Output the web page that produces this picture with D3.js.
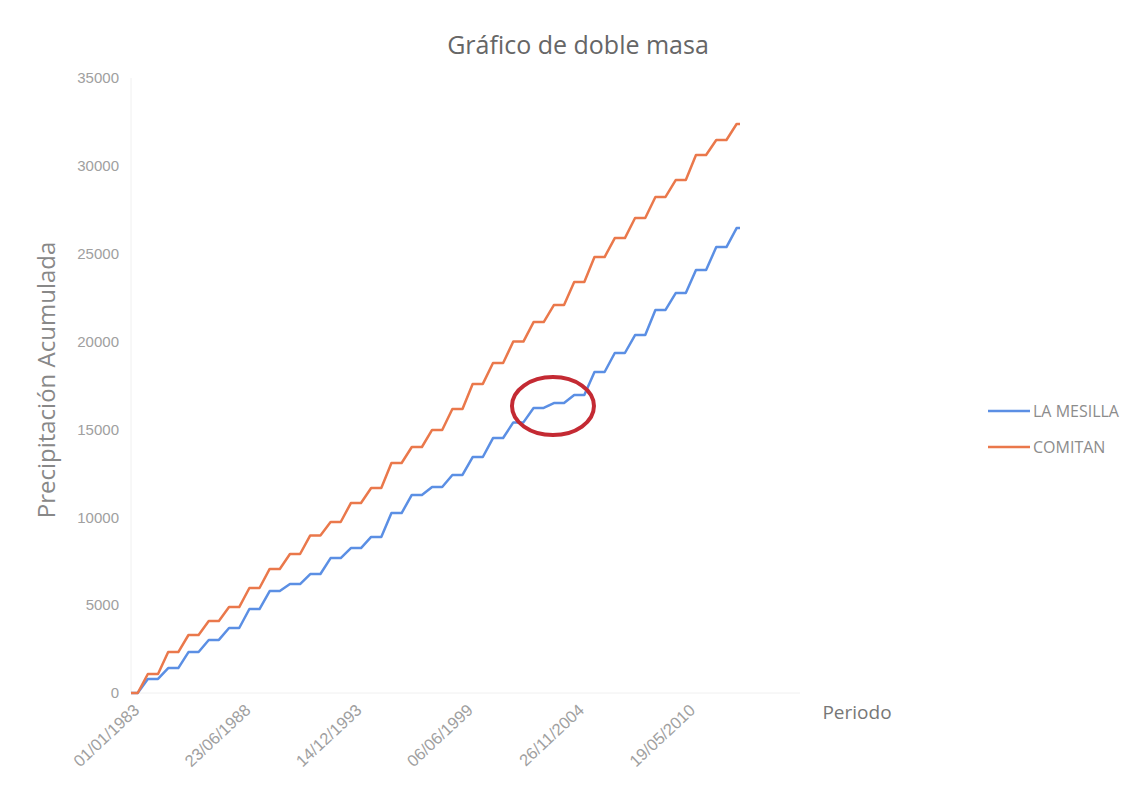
<!DOCTYPE html>
<html>
<head>
<meta charset="utf-8">
<script src="https://cdn.jsdelivr.net/npm/d3@7"></script>
<style>
  html, body { margin: 0; padding: 0; background: #ffffff; }
  svg { display: block; font-family: "Open Sans", "Liberation Sans", sans-serif; }
</style>
</head>
<body>
<svg id="chart" width="1128" height="785"></svg>
<script>
// ---- data ----
const years = [1983,1984,1985,1986,1987,1988,1989,1990,1991,1992,1993,1994,1995,1996,1997,
               1998,1999,2000,2001,2002,2003,2004,2005,2006,2007,2008,2009,2010,2011,2012];
// cumulative precipitation at the end of each year's rainy season
const comitanCum = [1080,2330,3300,4100,4890,5975,7060,7910,8970,9730,10810,11670,13090,14000,14970,
                    16160,17590,18780,20000,21110,22080,23390,24810,25890,27030,28230,29190,30620,31470,32380];
const mesillaCum = [800,1420,2330,3020,3700,4780,5800,6200,6770,7680,8250,8880,10240,11270,11720,
                    12410,13430,14510,15400,16220,16500,16960,18270,19350,20370,21800,22760,24070,25380,26460];
const seriesNames = ["LA MESILLA", "COMITAN"];
const xTickLabels = ["01/01/1983","23/06/1988","14/12/1993","06/06/1999","26/11/2004","19/05/2010"];
const yTicks = [0,5000,10000,15000,20000,25000,30000,35000];
const startDate = "1983-01-01", endDate = "2012-12-31";
// annotation: highlighted stretch of LA MESILLA
const highlightDate = "2003-10-15", highlightValue = 16330;

// ---- build point series (dry-season plateau, rainy-season rise) ----
const parse = d3.timeParse("%Y-%m-%d");
const parseDMY = d3.timeParse("%d/%m/%Y");
function buildPoints(cum) {
  const pts = [{date: parse(startDate), v: 0}];
  let prev = 0;
  years.forEach((y, i) => {
    pts.push({date: new Date(y, 4, 1), v: prev});
    pts.push({date: new Date(y, 9, 31), v: cum[i]});
    prev = cum[i];
  });
  pts.push({date: parse(endDate), v: prev});
  return pts;
}
const series = [
  {name: seriesNames[0], pts: buildPoints(mesillaCum), color: "#5b8fe4"},
  {name: seriesNames[1], pts: buildPoints(comitanCum), color: "#ea784b"}
];

// ---- layout ----
const svg = d3.select("#chart");
const x = d3.scaleTime().domain([parse(startDate), parse(endDate)]).range([131, 740]);
const y = d3.scaleLinear().domain([0, 35000]).range([693, 78]);

svg.append("rect").attr("width", 1128).attr("height", 785).attr("fill", "#fff");

// faint axis lines
svg.append("line").attr("x1", 131).attr("x2", 131).attr("y1", 78).attr("y2", 693)
  .attr("stroke", "#f0f0f0").attr("stroke-width", 1);
svg.append("line").attr("x1", 131).attr("x2", 800).attr("y1", 693).attr("y2", 693)
  .attr("stroke", "#f0f0f0").attr("stroke-width", 1);

// y axis
const yAxis = d3.axisLeft(y).tickValues(yTicks).tickSize(0).tickPadding(12).tickFormat(d3.format("d"));
const gy = svg.append("g").attr("transform", "translate(131,0)").call(yAxis);
gy.select(".domain").remove();
gy.selectAll("text").attr("fill", "#a0a0a0").style("font-size", "15px");

// x axis
const xTickDates = xTickLabels.map(s => parseDMY(s));
const xAxis = d3.axisBottom(x).tickValues(xTickDates).tickSize(0).tickFormat((d, i) => xTickLabels[i]);
const gx = svg.append("g").attr("transform", "translate(0,693)").call(xAxis);
gx.select(".domain").remove();
gx.selectAll("text")
  .attr("fill", "#a0a0a0").style("font-size", "16.5px")
  .attr("text-anchor", "end")
  .attr("dy", "0.35em")
  .attr("transform", "translate(3,12) rotate(-43)");

// lines
const line = d3.line().x(d => x(d.date)).y(d => y(d.v));
series.forEach(s => {
  svg.append("path").datum(s.pts).attr("d", line)
    .attr("fill", "none").attr("stroke", s.color).attr("stroke-width", 2.5)
    .attr("stroke-linejoin", "round");
});

// annotation ellipse
svg.append("ellipse")
  .attr("cx", x(parse(highlightDate))).attr("cy", y(highlightValue))
  .attr("rx", 41).attr("ry", 29)
  .attr("fill", "none").attr("stroke", "#c42a33").attr("stroke-width", 4);

// title
svg.append("text").attr("x", 578).attr("y", 54).attr("text-anchor", "middle")
  .attr("fill", "#666").style("font-size", "25px").text("Gráfico de doble masa");

// y axis title
svg.append("text").attr("transform", "translate(55,380) rotate(-90)").attr("text-anchor", "middle")
  .attr("fill", "#888").style("font-size", "24px").text("Precipitación Acumulada");

// x axis title
svg.append("text").attr("x", 857).attr("y", 719).attr("text-anchor", "middle")
  .attr("fill", "#777").style("font-size", "19px").text("Periodo");

// legend
const legend = svg.append("g");
series.forEach((s, i) => {
  const ly = 411 + i * 36;
  legend.append("line").attr("x1", 988).attr("x2", 1030).attr("y1", ly).attr("y2", ly)
    .attr("stroke", s.color).attr("stroke-width", 2.5);
  legend.append("text").attr("x", 1033).attr("y", ly).attr("dy", "0.35em")
    .attr("fill", "#8c8c8c").style("font-size", "16px").text(s.name);
});
</script>
</body>
</html>
